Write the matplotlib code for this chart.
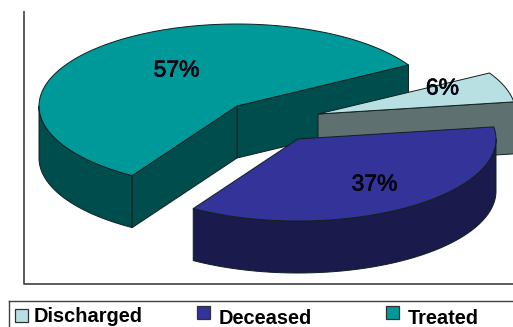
import numpy as np
import matplotlib
matplotlib.use("Agg")
import matplotlib.pyplot as plt
import matplotlib.patheffects as pe
from matplotlib.patches import Polygon, Rectangle

categories = ["Discharged", "Deceased", "Treated"]
shares = [6, 37, 57]
top_colors = ["#B8E0E3", "#333399", "#009999"]
side_colors = ["#5F7070", "#1A1A4D", "#004D4D"]
swatch_colors = ["#B8E0E3", "#333399", "#009999"]

# Layout of the exploded slices, in figure pixels
centers = {"Discharged": (318, 114), "Deceased": (298, 139), "Treated": (237, 106)}
label_pos = {"Discharged": (442.5, 88), "Deceased": (374.5, 184), "Treated": (176.5, 70)}
RX, RY, DEPTH = 198, 82, 52
START = 30.0
EDGE = "#10201f"

fig = plt.figure(figsize=(5.13, 3.27), dpi=100)
ax = fig.add_axes([0, 0, 1, 1])
ax.set_xlim(0, 513)
ax.set_ylim(327, 0)
ax.axis("off")


def skew(t):
    # Perspective makes the front of the tilted pie look wider
    return t + 3.0 * np.sin(np.radians(t - START) / 2) ** 2


def rim(c, a, b, drop=0.0):
    t = np.radians(np.linspace(a, b, 120))
    return np.column_stack([c[0] + RX * np.cos(t), c[1] - RY * np.sin(t) + drop])


def face(points, color, z):
    ax.add_patch(Polygon(points, closed=True, fc=color, ec=EDGE, lw=0.7, zorder=z, joinstyle="round"))


def radial_face(c, t, color, z):
    r = rim(c, t, t)[0]
    face([c, r, (r[0], r[1] + DEPTH), (c[0], c[1] + DEPTH)], color, z)


def outer_face(c, a, b, color, z):
    upper = rim(c, a, b)
    face(np.vstack([upper, rim(c, b, a, DEPTH)]), color, z)


# Slice angles run counter-clockwise from START: Treated, Deceased, Discharged
by_name = dict(zip(categories, zip(shares, top_colors, side_colors)))
a = START
spans = {}
for name in ["Treated", "Deceased", "Discharged"]:
    b = a + by_name[name][0] * 3.6
    spans[name] = (skew(a), skew(b) if name != "Discharged" else START + 360)
    a = b

# Back slice first, then the nearer ones over it
for z, name in enumerate(["Treated", "Discharged", "Deceased"]):
    base = 10 * (z + 1)
    c = centers[name]
    t0, t1 = spans[name]
    side, top = by_name[name][2], by_name[name][1]
    if name == "Treated":
        outer_face(c, 180, t1, side, base)
        radial_face(c, t0, side, base + 1)
        radial_face(c, t1, side, base + 1)
    elif name == "Discharged":
        radial_face(c, t0, side, base)
    else:
        outer_face(c, t0, 360, side, base)
    face(np.vstack([[c], rim(c, t0, t1)]), top, base + 2)
    ax.text(*label_pos[name], f"{by_name[name][0]}%", fontsize=16.5, color="#050510",
            family="Liberation Sans", ha="center", va="center", zorder=60,
            path_effects=[pe.withStroke(linewidth=0.5, foreground="#050510")])

# Plot frame on the left and bottom
ax.plot([24, 24, 513], [11, 284, 284], color="#404040", lw=1.2, solid_capstyle="butt", zorder=70)

# Legend box running off the lower right edge
ax.plot([8.5, 8.5], [327, 301], color="#404040", lw=1.0, zorder=70)
ax.plot([8.5, 513], [301, 301], color="#404040", lw=1.0, zorder=70)
swatches = [(15, 309), (197, 306), (386, 306)]
text_pos = [(34, 322), (219, 324), (408, 324)]
for name, color, (sx, sy), (tx, ty) in zip(categories, swatch_colors, swatches, text_pos):
    ax.add_patch(Rectangle((sx, sy), 13, 13, fc=color, ec="#303030", lw=0.9, zorder=70))
    ax.text(tx, ty, name, fontsize=14.4, fontweight="bold", family="Liberation Sans",
            color="#000000", ha="left", va="baseline", zorder=70)

fig.savefig("out.png", dpi=100)
